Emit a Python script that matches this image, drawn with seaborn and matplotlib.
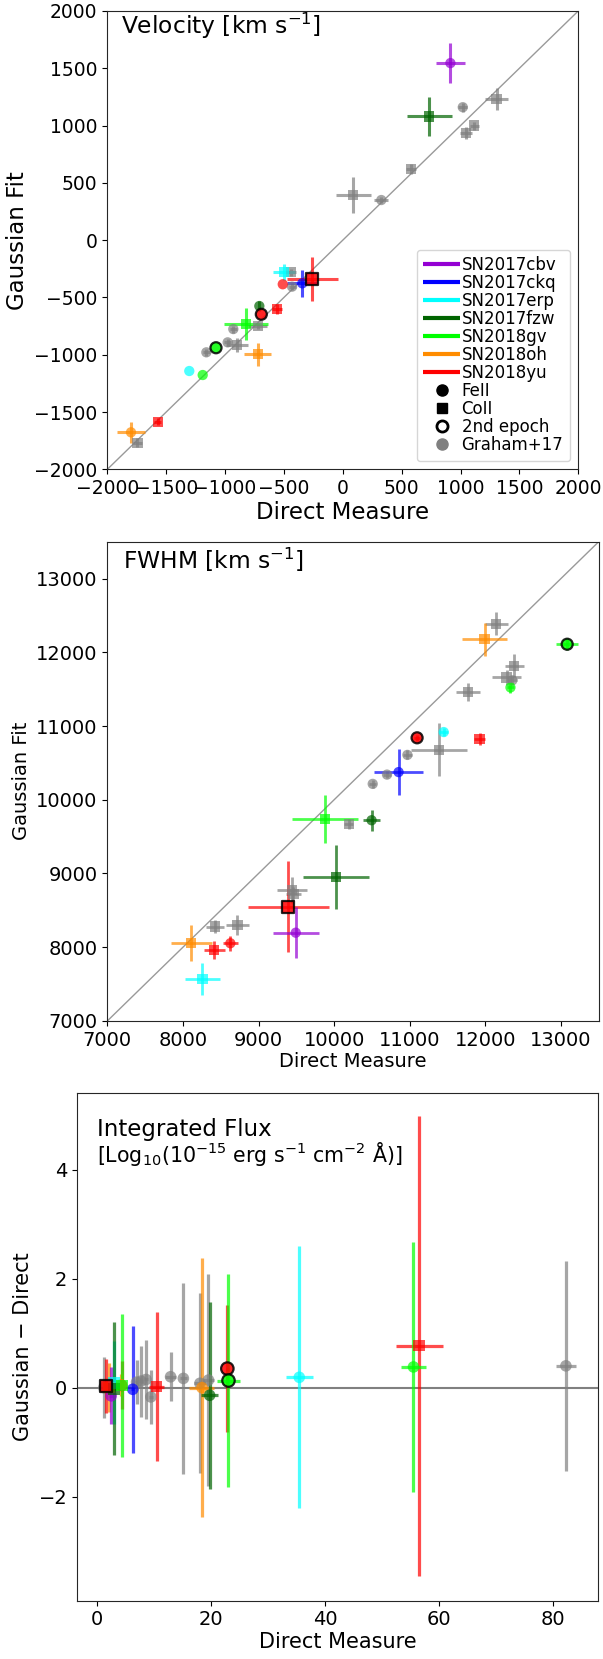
"""
Direct measure vs Gaussian fit: velocity, FWHM and integrated flux
"""
import numpy as np
import pandas as pd
import matplotlib
matplotlib.use('Agg')
import matplotlib.pyplot as plt
from matplotlib.lines import Line2D
import seaborn as sns

sns.set_style('ticks')
plt.rcParams['font.family'] = ['DejaVu Sans']
plt.rcParams['mathtext.default'] = 'regular'
plt.rcParams['lines.solid_capstyle'] = 'butt'
plt.rcParams['text.color'] = 'black'
plt.rcParams['axes.labelcolor'] = 'black'
plt.rcParams['xtick.color'] = 'black'
plt.rcParams['ytick.color'] = 'black'

# ── COLORS ───────────────────────────────────────────────────────────────────
SN_COLORS = {
    'SN2017cbv': '#9400D3',
    'SN2017ckq': 'blue',
    'SN2017erp': 'cyan',
    'SN2017fzw': 'darkgreen',
    'SN2018gv':  'lime',
    'SN2018oh':  'darkorange',
    'SN2018yu':  'red',
    'Graham+17': 'gray',
}
SN_NAMES = ['SN2017cbv', 'SN2017ckq', 'SN2017erp', 'SN2017fzw',
            'SN2018gv', 'SN2018oh', 'SN2018yu']

# ── DATA: velocity ───────────────────────────────────────────────────────────
vel_sn = ['Graham+17'] * 15 + ['SN2017cbv', 'SN2017fzw', 'SN2017fzw', 'SN2017erp', 'SN2017erp',
                               'SN2017ckq', 'SN2018yu', 'SN2018yu', 'SN2018yu', 'SN2018yu',
                               'SN2018yu', 'SN2018gv', 'SN2018gv', 'SN2018gv', 'SN2018oh', 'SN2018oh']
vel_x = [1306, 1019, 1117, 1045, 578, 88, 327, -440, -431, -723, -930, -978, -901, -1159, -1745,
         914, 735, -709, -497, -1304, -344, -259, -510, -692, -559, -1570, -822, -1077, -1190, -723, -1799]
vel_y = [1230, 1160, 1000, 933, 621, 394, 350, -280, -406, -749, -776, -892, -915, -979, -1768,
         1545, 1079, -575, -275, -1142, -377, -339, -385, -647, -601, -1585, -732, -939, -1177, -996, -1677]
vel_xerr = [98, 40, 40, 50, 45, 150, 60, 40, 30, 81, 30, 30, 92, 30, 40,
            126, 190, 0, 92, 0, 127, 219, 0, 0, 40, 30, 187, 0, 0, 117, 123]
vel_yerr = [95, 40, 35, 50, 40, 160, 25, 30, 30, 30, 30, 30, 65, 30, 40,
            172, 170, 44, 70, 0, 116, 193, 0, 0, 40, 30, 140, 0, 0, 99, 92]
vel_marker = ['s', 'o', 's', 's', 's', 's', 'o', 's', 'o', 's', 'o', 'o', 's', 'o', 's',
              'o', 's', 'o', 's', 'o', 'o', 's', 'o', 'o', 's', 's', 's', 'o', 'o', 's', 'o']
vel_epoch2 = [0] * 21 + [1, 0, 1, 0, 0, 0, 1, 0, 0, 0]

# ── DATA: FWHM ───────────────────────────────────────────────────────────────
fwhm_sn = ['Graham+17'] * 14 + ['SN2018oh', 'SN2018oh', 'SN2018gv', 'SN2018gv', 'SN2018gv',
                                'SN2018yu', 'SN2018yu', 'SN2018yu', 'SN2018yu', 'SN2018yu',
                                'SN2017erp', 'SN2017erp', 'SN2017ckq', 'SN2017fzw', 'SN2017fzw',
                                'SN2017cbv']
fwhm_x = [12143, 12383, 12281, 12357, 11770, 11388, 10969, 10699, 10510, 10193, 9443, 9461, 8421, 8720,
          11990, 8111, 13082, 12332, 9876, 11097, 11923, 9394, 8411, 8627,
          11449, 8257, 10852, 10495, 10021, 9492]
fwhm_y = [12385, 11818, 11659, 11620, 11465, 10676, 10608, 10341, 10215, 9667, 8777, 8723, 8279, 8302,
          12177, 8058, 12109, 11523, 9739, 10840, 10826, 8550, 7963, 8054,
          10918, 7570, 10375, 9722, 8949, 8197]
fwhm_xerr = [150, 128, 189, 60, 153, 375, 60, 50, 50, 60, 200, 100, 119, 154,
             298, 269, 145, 50, 435, 40, 70, 533, 139, 99,
             60, 234, 325, 115, 435, 306]
fwhm_yerr = [155, 157, 97, 60, 121, 360, 60, 50, 50, 70, 180, 100, 90, 133,
             225, 249, 80, 70, 323, 40, 80, 621, 124, 102,
             60, 215, 315, 145, 436, 350]
fwhm_marker = ['s', 's', 's', 'o', 's', 's', 'o', 'o', 'o', 's', 's', 's', 's', 's',
               's', 's', 'o', 'o', 's', 'o', 's', 's', 's', 'o',
               'o', 's', 'o', 'o', 's', 'o']
fwhm_epoch2 = [0] * 16 + [1, 0, 0, 1, 0, 1, 0, 0, 0, 0, 0, 0, 0, 0]

# ── DATA: integrated flux ────────────────────────────────────────────────────
flux_sn = ['Graham+17'] * 10 + ['SN2018yu'] * 5 + ['SN2018oh'] * 3 + ['SN2017cbv'] + \
          ['SN2017erp'] * 2 + ['SN2017fzw'] * 2 + ['SN2018gv'] * 3 + ['SN2017ckq']
flux_x = [1.27, 7.0, 7.8, 8.66, 9.5, 12.96, 15.2, 18.1, 19.6, 82.2,
          1.6, 4.4, 10.5, 22.9, 56.5,
          2.15, 4.3, 18.45,
          2.55,
          3.1, 35.5,
          3.1, 19.8,
          4.5, 23.1, 55.5,
          6.33]
flux_y = [0.0, 0.1, 0.12, 0.15, -0.17, 0.2, 0.17, 0.08, 0.14, 0.40,
          0.03, 0.04, 0.02, 0.35, 0.77,
          0.0, 0.05, 0.0,
          -0.15,
          0.09, 0.19,
          -0.02, -0.14,
          0.04, 0.13, 0.38,
          -0.03]
flux_xerr = [0.3, 0.3, 0.3, 0.3, 0.3, 0.9, 0.6, 1.0, 1.0, 1.8,
             0.4, 0.3, 1.3, 0.3, 4.1,
             0.3, 0.3, 2.2,
             0.3,
             0.5, 2.37,
             0.3, 1.45,
             0.3, 2.0, 2.2,
             0.3]
flux_yerr = [0.56, 0.4, 0.65, 0.73, 0.5, 0.45, 1.75, 1.65, 1.95, 1.92,
             0.5, 0.44, 1.37, 1.16, 4.22,
             0.45, 0.2, 2.37,
             0.52,
             0.76, 2.4,
             1.22, 1.72,
             1.32, 1.95, 2.3,
             1.17]
flux_marker = ['o'] * 10 + ['s', 'o', 's', 'o', 's'] + ['s', 'o', 'o'] + ['o'] + \
              ['s', 'o'] + ['s', 'o'] + ['s', 'o', 'o'] + ['o']
flux_epoch2 = [0] * 10 + [1, 0, 0, 1, 0] + [0] * 3 + [0] + [0, 0] + [0, 0] + [0, 1, 0] + [0]


def make_df(sn, x, y, xerr, yerr, mk, ep):
    return pd.DataFrame({'sn': sn, 'x': x, 'y': y, 'xerr': xerr, 'yerr': yerr,
                         'mk': mk, 'ep2': ep})


def draw_points(ax, df, ms, elw):
    for r in df.itertuples():
        ax.errorbar(r.x, r.y, xerr=r.xerr, yerr=r.yerr, fmt='none',
                    ecolor=SN_COLORS[r.sn], elinewidth=elw, alpha=0.7, capsize=0, zorder=2)
    for mk in ['o', 's']:
        for ep in [0, 1]:
            sub = df[(df.mk == mk) & (df.ep2 == ep)]
            if len(sub) == 0:
                continue
            sns.scatterplot(data=sub, x='x', y='y', hue='sn', palette=SN_COLORS,
                            marker=mk, s=ms if not ep else ms * 1.15,
                            alpha=0.85 if ep else 0.7,
                            edgecolor='black' if ep else 'none',
                            linewidth=1.6 if ep else 0,
                            legend=False, ax=ax, zorder=3 + ep)
    ax.set_xlabel('')
    ax.set_ylabel('')


fig = plt.figure(figsize=(6.03, 16.59), dpi=100)

# ── PANEL 1: Velocity ────────────────────────────────────────────────────────
ax1 = fig.add_axes([0.178, 0.7171, 0.781, 0.2763])
ax1.axline((0, 0), slope=1, color='gray', lw=1, alpha=0.8, zorder=1)
draw_points(ax1, make_df(vel_sn, vel_x, vel_y, vel_xerr, vel_yerr, vel_marker, vel_epoch2),
            ms=55, elw=2.2)
ax1.set_xlim(-2000, 2000)
ax1.set_ylim(-2000, 2000)
ax1.set_xticks(np.arange(-2000, 2001, 500))
ax1.set_yticks(np.arange(-2000, 2001, 500))
ax1.tick_params(labelsize=13.5)
ax1.set_xlabel('Direct Measure', fontsize=16.5, labelpad=2)
ax1.set_ylabel('Gaussian Fit', fontsize=16.5)
ax1.text(0.028, 0.951, 'Velocity [km s$^{-1}$]', transform=ax1.transAxes,
         fontsize=16.8, va='baseline', ha='left')

handles = [Line2D([], [], color=SN_COLORS[n], lw=3, label=n) for n in SN_NAMES]
handles += [
    Line2D([], [], ls='none', marker='o', color='black', ms=8, label='FeII'),
    Line2D([], [], ls='none', marker='s', color='black', ms=7.5, label='CoII'),
    Line2D([], [], ls='none', marker='o', mfc='white', mec='black', mew=2, ms=8, label='2nd epoch'),
    Line2D([], [], ls='none', marker='o', color='gray', ms=8, label='Graham+17'),
]
ax1.legend(handles=handles, loc='lower right', fontsize=12, labelspacing=0.0,
           handletextpad=0.1, handlelength=2.2, borderpad=0.4, frameon=True)

# ── PANEL 2: FWHM ────────────────────────────────────────────────────────────
ax2 = fig.add_axes([0.178, 0.3846, 0.815, 0.2889])
ax2.axline((7000, 7000), slope=1, color='gray', lw=1, alpha=0.8, zorder=1)
draw_points(ax2, make_df(fwhm_sn, fwhm_x, fwhm_y, fwhm_xerr, fwhm_yerr, fwhm_marker, fwhm_epoch2),
            ms=55, elw=2.0)
ax2.set_xlim(7000, 13500)
ax2.set_ylim(7000, 13500)
ax2.set_xticks(np.arange(7000, 13001, 1000))
ax2.set_yticks(np.arange(7000, 13001, 1000))
ax2.tick_params(labelsize=14)
ax2.set_xlabel('Direct Measure', fontsize=14, labelpad=2)
ax2.set_ylabel('Gaussian Fit', fontsize=14)
ax2.text(0.031, 0.943, 'FWHM [km s$^{-1}$]', transform=ax2.transAxes,
         fontsize=16.8, va='baseline', ha='left')

# ── PANEL 3: Integrated flux ─────────────────────────────────────────────────
ax3 = fig.add_axes([0.128, 0.0351, 0.8635, 0.3062])
ax3.axhline(0, color='gray', lw=1.5, zorder=1)
draw_points(ax3, make_df(flux_sn, flux_x, flux_y, flux_xerr, flux_yerr, flux_marker, flux_epoch2),
            ms=70, elw=2.3)
ax3.set_xlim(-3.4, 87.8)
ax3.set_ylim(-3.91, 5.41)
ax3.set_xticks([0, 20, 40, 60, 80])
ax3.set_yticks([-2, 0, 2, 4])
ax3.tick_params(labelsize=14)
ax3.set_xlabel('Direct Measure', fontsize=15, labelpad=2)
ax3.set_ylabel('Gaussian \u2212 Direct', fontsize=15)
ax3.text(0.038, 0.9146, 'Integrated Flux', transform=ax3.transAxes,
         fontsize=16.5, va='baseline', ha='left')
ax3.text(0.038, 0.8636, '[Log$_{10}$(10$^{-15}$ erg s$^{-1}$ cm$^{-2}$ Å)]',
         transform=ax3.transAxes, fontsize=14.8, va='baseline', ha='left')

plt.savefig('out.png', dpi=100)
plt.close()
